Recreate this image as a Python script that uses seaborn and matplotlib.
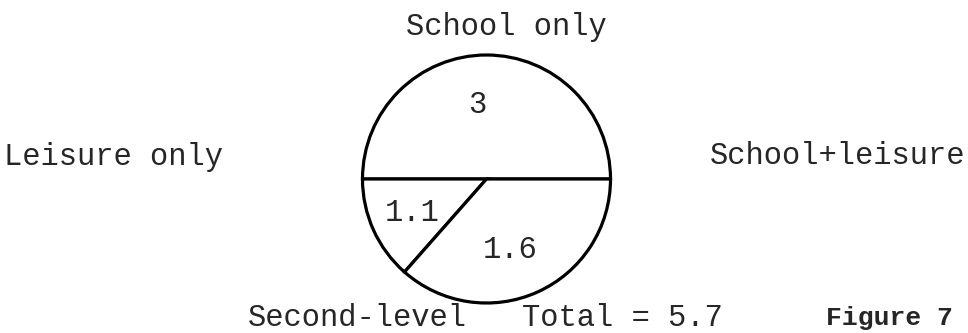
import matplotlib
matplotlib.use("Agg")
import matplotlib.pyplot as plt
import seaborn as sns

# slice labels and values as printed in the figure
slice_names = ["School only", "Second-level", "School+leisure"]
slice_values = [3, 1.1, 1.6]
# share of the circle each slice takes in the drawing (not to scale in the original)
slice_shares = [0.5, 0.135, 0.365]
total = 5.7

sns.set_theme(style="white")
plt.rcParams['font.family'] = ['Liberation Mono', 'DejaVu Sans Mono']

fig = plt.figure(figsize=(9.68, 3.33), dpi=100)
ax = fig.add_axes([0, 0, 1, 1])

cx, cy, r = 486.5, 154, 124
ax.pie(slice_shares, center=(cx, cy), radius=r, startangle=0, counterclock=True,
       colors=['white'] * 3,
       wedgeprops=dict(edgecolor='black', linewidth=2.3))
ax.set_xlim(0, 968)
ax.set_ylim(0, 333)
ax.set_aspect('equal')
ax.axis('off')

fs = 22
# values inside the slices
ax.text(477.5, 228, str(slice_values[0]), ha='center', va='center', fontsize=fs)
ax.text(412.5, 120, str(slice_values[1]), ha='center', va='center', fontsize=fs)
ax.text(510.5, 83, str(slice_values[2]), ha='center', va='center', fontsize=fs)

# category labels round the circle
ax.text(506, 298, "School only", ha='center', va='baseline', fontsize=fs)
ax.text(114, 168, "Leisure only", ha='center', va='baseline', fontsize=fs)
ax.text(838, 169, "School+leisure", ha='center', va='baseline', fontsize=fs)
ax.text(357, 7, "Second-level", ha='center', va='baseline', fontsize=fs)
ax.text(622, 7, "Total = " + str(total), ha='center', va='baseline', fontsize=fs)
ax.text(889, 8, "Figure 7", ha='center', va='baseline', fontsize=19, fontweight='bold')

fig.savefig("out.png", dpi=100)
